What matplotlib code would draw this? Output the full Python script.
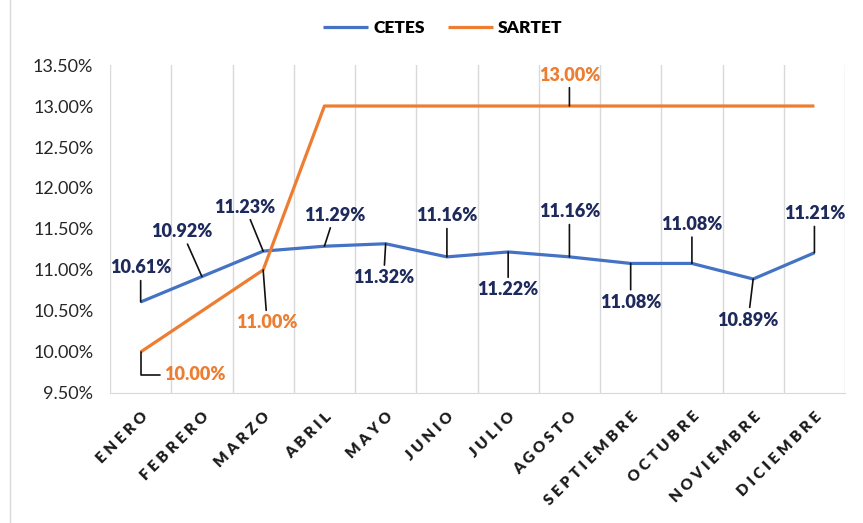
import matplotlib
matplotlib.use('Agg')
import matplotlib.pyplot as plt
from matplotlib.lines import Line2D

plt.rcParams['font.family'] = ['Lato', 'DejaVu Sans']

meses = ['ENERO', 'FEBRERO', 'MARZO', 'ABRIL', 'MAYO', 'JUNIO', 'JULIO',
         'AGOSTO', 'SEPTIEMBRE', 'OCTUBRE', 'NOVIEMBRE', 'DICIEMBRE']
cetes = [10.61, 10.92, 11.23, 11.29, 11.32, 11.16, 11.22, 11.16, 11.08, 11.08, 10.89, 11.21]
sartet = [10.00, 10.50, 11.00, 13.00, 13.00, 13.00, 13.00, 13.00, 13.00, 13.00, 13.00, 13.00]
yticks = [9.5, 10.0, 10.5, 11.0, 11.5, 12.0, 12.5, 13.0, 13.5]

# label offsets in pixels (dx, dy) for each point, None = no label
off_cetes = [(0, 34), (-20, 45), (-18, 44), (10, 31), (-2, -34), (0, 41),
             (0, -38), (0, 45), (0, -39), (0, 39), (-5, -41), (0, 39)]
off_sartet = [(54, -23), None, (4, -53), None, None, None, None,
              (0, 31), None, None, None, None]

azul = '#4472C4'
naranja = '#ED7D31'
marino = '#1F2A5C'

fig = plt.figure(figsize=(8.63, 5.23), dpi=100)
ax = fig.add_axes([0.1275, 0.2486, 0.8517, 0.6271])

x = list(range(len(meses)))
ax.plot(x, cetes, color=azul, lw=2.3, label='CETES', solid_capstyle='butt')
ax.plot(x, sartet, color=naranja, lw=2.3, label='SARTET', solid_capstyle='butt')

ax.set_xlim(-0.5, len(meses) - 0.5)
ax.set_ylim(9.5, 13.5)
ax.set_yticks(yticks)
ax.set_yticklabels(['%.2f%%' % v for v in yticks], fontsize=13, color='#262626')

ax.set_xticks(x)
ax.set_xticklabels([' '.join(m) for m in meses], rotation=45, ha='right',
                   rotation_mode='anchor', fontsize=11, fontweight='heavy',
                   color='#1a1a1a')
ax.tick_params(axis='both', length=0)
ax.tick_params(axis='x', pad=12)
ax.tick_params(axis='y', pad=12)

for b in [i - 0.5 for i in range(len(meses) + 1)]:
    ax.axvline(b, color='#D9D9D9', lw=1, zorder=0)
for s in ['top', 'right', 'left']:
    ax.spines[s].set_visible(False)
ax.spines['bottom'].set_color('#D9D9D9')

for i, v in enumerate(cetes):
    dx, dy = off_cetes[i]
    ax.annotate('%.2f%%' % v, xy=(i, v), xytext=(dx, dy), textcoords='offset pixels',
                ha='center', va='center', fontsize=13, fontweight='heavy', color=marino,
                arrowprops=dict(arrowstyle='-', color='#111111', lw=1.2,
                                shrinkA=1, shrinkB=0))

for i, v in enumerate(sartet):
    if off_sartet[i] is None:
        continue
    dx, dy = off_sartet[i]
    cs = 'angle,angleA=0,angleB=90,rad=0' if i == 0 else 'arc3'
    ax.annotate('%.2f%%' % v, xy=(i, v), xytext=(dx, dy), textcoords='offset pixels',
                ha='center', va='center', fontsize=13, fontweight='heavy', color=naranja,
                arrowprops=dict(arrowstyle='-', color='#111111', lw=1.2,
                                shrinkA=1, shrinkB=0, connectionstyle=cs))

fig.legend(loc='center', bbox_to_anchor=(0.513, 0.946), ncol=2, frameon=False,
           prop={'weight': 'heavy', 'size': 12.5}, handlelength=2.6, columnspacing=1.3,
           handletextpad=0.3)

fig.add_artist(Line2D([10 / 863, 10 / 863], [0, 1], color='#D9D9D9', lw=1))

fig.savefig('out.png', dpi=100)
